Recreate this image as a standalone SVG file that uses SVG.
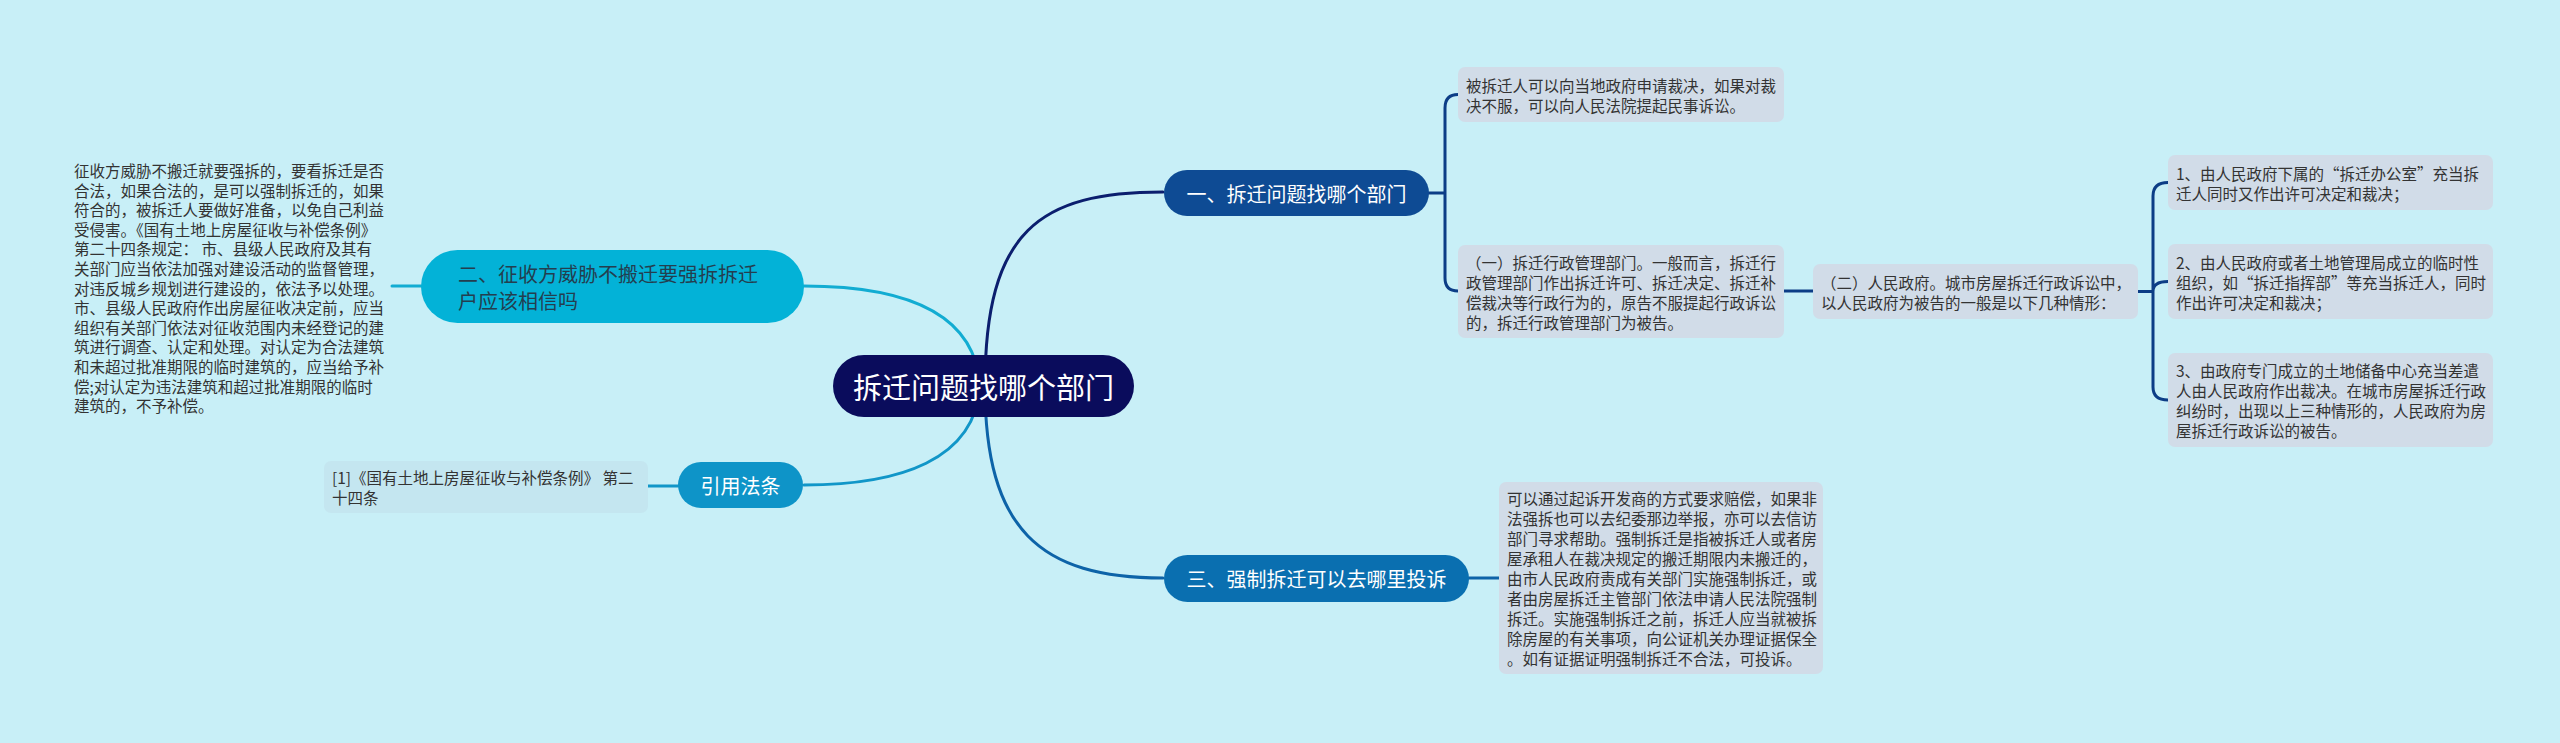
<svg xmlns="http://www.w3.org/2000/svg" width="2560" height="743" viewBox="0 0 2560 743">
<style>
text{font-family:'Noto Sans CJK SC','Noto Sans',sans-serif;dominant-baseline:central}
.s{font-size:15.5px;fill:#333}
.t20{font-size:20px}
.w{fill:#fff}
.box{fill:#d1dce8}
.ln{fill:none;stroke-width:3;stroke-linecap:round}
</style>
<rect width="2560" height="743" fill="#c8eff7"/>
<g id="connectors">
<path class="ln" stroke="#0b1e6e" d="M985,386 C985,230 1040,192 1163,192"/>
<path class="ln" stroke="#12acd2" d="M980,386 C975,310 900,286 804,286"/>
<path class="ln" stroke="#1196c8" d="M980,386 C975,460 900,485 804,485"/>
<path class="ln" stroke="#0d63a8" d="M985,386 C985,530 1040,578 1163,578"/>
<path class="ln" stroke="#12acd2" d="M392,286 L421,286"/>
<path class="ln" stroke="#1196c8" d="M648,486 L678,486"/>
<path class="ln" stroke="#0d63a8" d="M1469,578 L1499,578"/>
<path class="ln" stroke="#0c3d86" d="M1429,193 L1445,193 M1445,193 V108 Q1445,94.5 1458,94.5 M1445,193 V278 Q1445,291 1458,291"/>
<path class="ln" stroke="#0c3d86" d="M1784,291 L1813,291"/>
<path class="ln" stroke="#0c3d86" d="M2138,291.5 L2153,291.5 M2153,291.5 V196 Q2153,182.5 2168,182.5 M2153,291.5 Q2153,281.5 2168,281.5 M2153,291.5 V387 Q2153,400 2168,400"/>
</g>
<g id="root">
<rect x="833" y="355" width="301" height="62" rx="31" fill="#0a0c5c"/>
<text x="983.5" y="386" text-anchor="middle" class="w" font-size="29">拆迁问题找哪个部门</text>
</g>
<g id="n1">
<rect x="1164" y="170" width="265" height="46" rx="23" fill="#0e4b94"/>
<text x="1296.5" y="193" text-anchor="middle" class="w t20">一、拆迁问题找哪个部门</text>
</g>
<g id="n2">
<rect x="421" y="250" width="383" height="73" rx="36.5" fill="#03b2d7"/>
<text x="458" y="273" class="t20" fill="#233e4f">二、征收方威胁不搬迁要强拆拆迁</text>
<text x="458" y="300" class="t20" fill="#233e4f">户应该相信吗</text>
</g>
<g id="n3">
<rect x="1164" y="555" width="305" height="47" rx="23.5" fill="#0a6fb0"/>
<text x="1316.5" y="578" text-anchor="middle" class="w t20">三、强制拆迁可以去哪里投诉</text>
</g>
<g id="n4">
<rect x="678" y="462" width="125" height="46" rx="23" fill="#0e94c8"/>
<text x="740.5" y="485" text-anchor="middle" class="w t20">引用法条</text>
</g>
<g id="n2text">
<text class="s" x="74" y="170">征收方威胁不搬迁就要强拆的，要看拆迁是否</text>
<text class="s" x="74" y="189.6">合法，如果合法的，是可以强制拆迁的，如果</text>
<text class="s" x="74" y="209.2">符合的，被拆迁人要做好准备，以免自己利益</text>
<text class="s" x="74" y="228.8">受侵害。《国有土地上房屋征收与补偿条例》</text>
<text class="s" x="74" y="248.4">第二十四条规定： 市、县级人民政府及其有</text>
<text class="s" x="74" y="268">关部门应当依法加强对建设活动的监督管理，</text>
<text class="s" x="74" y="287.6">对违反城乡规划进行建设的，依法予以处理。</text>
<text class="s" x="74" y="307.2">市、县级人民政府作出房屋征收决定前，应当</text>
<text class="s" x="74" y="326.8">组织有关部门依法对征收范围内未经登记的建</text>
<text class="s" x="74" y="346.4">筑进行调查、认定和处理。对认定为合法建筑</text>
<text class="s" x="74" y="366">和未超过批准期限的临时建筑的，应当给予补</text>
<text class="s" x="74" y="385.6">偿;对认定为违法建筑和超过批准期限的临时</text>
<text class="s" x="74" y="405.2">建筑的，不予补偿。</text>
</g>
<g id="cite">
<rect x="324" y="461" width="324" height="52" rx="7" fill="#c4e6f0"/>
<text class="s" x="332" y="477">[1]《国有土地上房屋征收与补偿条例》 第二</text>
<text class="s" x="332" y="497">十四条</text>
</g>
<g id="n1a">
<rect class="box" x="1458" y="67" width="326" height="55" rx="7"/>
<text class="s" x="1466" y="84.5">被拆迁人可以向当地政府申请裁决，如果对裁</text>
<text class="s" x="1466" y="104.5">决不服，可以向人民法院提起民事诉讼。</text>
</g>
<g id="n1b">
<rect class="box" x="1458" y="245" width="326" height="93" rx="7"/>
<text class="s" x="1466" y="261.5">（一）拆迁行政管理部门。一般而言，拆迁行</text>
<text class="s" x="1466" y="281.5">政管理部门作出拆迁许可、拆迁决定、拆迁补</text>
<text class="s" x="1466" y="301.5">偿裁决等行政行为的，原告不服提起行政诉讼</text>
<text class="s" x="1466" y="321.5">的，拆迁行政管理部门为被告。</text>
</g>
<g id="n1b2">
<rect class="box" x="1813" y="264" width="325" height="55" rx="7"/>
<text class="s" x="1821" y="281.5">（二）人民政府。城市房屋拆迁行政诉讼中，</text>
<text class="s" x="1821" y="301.5">以人民政府为被告的一般是以下几种情形：</text>
</g>
<g id="c1">
<rect class="box" x="2168" y="155" width="325" height="55" rx="7"/>
<text class="s" x="2176" y="172.5">1、由人民政府下属的“拆迁办公室”充当拆</text>
<text class="s" x="2176" y="192.5">迁人同时又作出许可决定和裁决；</text>
</g>
<g id="c2">
<rect class="box" x="2168" y="244" width="325" height="75" rx="7"/>
<text class="s" x="2176" y="261.5">2、由人民政府或者土地管理局成立的临时性</text>
<text class="s" x="2176" y="281.5">组织，如“拆迁指挥部”等充当拆迁人，同时</text>
<text class="s" x="2176" y="301.5">作出许可决定和裁决；</text>
</g>
<g id="c3">
<rect class="box" x="2168" y="353" width="325" height="94" rx="7"/>
<text class="s" x="2176" y="370">3、由政府专门成立的土地储备中心充当差遣</text>
<text class="s" x="2176" y="390">人由人民政府作出裁决。在城市房屋拆迁行政</text>
<text class="s" x="2176" y="410">纠纷时，出现以上三种情形的，人民政府为房</text>
<text class="s" x="2176" y="430">屋拆迁行政诉讼的被告。</text>
</g>
<g id="n3a">
<rect class="box" x="1499" y="482" width="324" height="192" rx="7"/>
<text class="s" x="1507" y="498">可以通过起诉开发商的方式要求赔偿，如果非</text>
<text class="s" x="1507" y="518">法强拆也可以去纪委那边举报，亦可以去信访</text>
<text class="s" x="1507" y="538">部门寻求帮助。强制拆迁是指被拆迁人或者房</text>
<text class="s" x="1507" y="558">屋承租人在裁决规定的搬迁期限内未搬迁的，</text>
<text class="s" x="1507" y="578">由市人民政府责成有关部门实施强制拆迁，或</text>
<text class="s" x="1507" y="598">者由房屋拆迁主管部门依法申请人民法院强制</text>
<text class="s" x="1507" y="618">拆迁。实施强制拆迁之前，拆迁人应当就被拆</text>
<text class="s" x="1507" y="638">除房屋的有关事项，向公证机关办理证据保全</text>
<text class="s" x="1507" y="658">。如有证据证明强制拆迁不合法，可投诉。</text>
</g>
</svg>
